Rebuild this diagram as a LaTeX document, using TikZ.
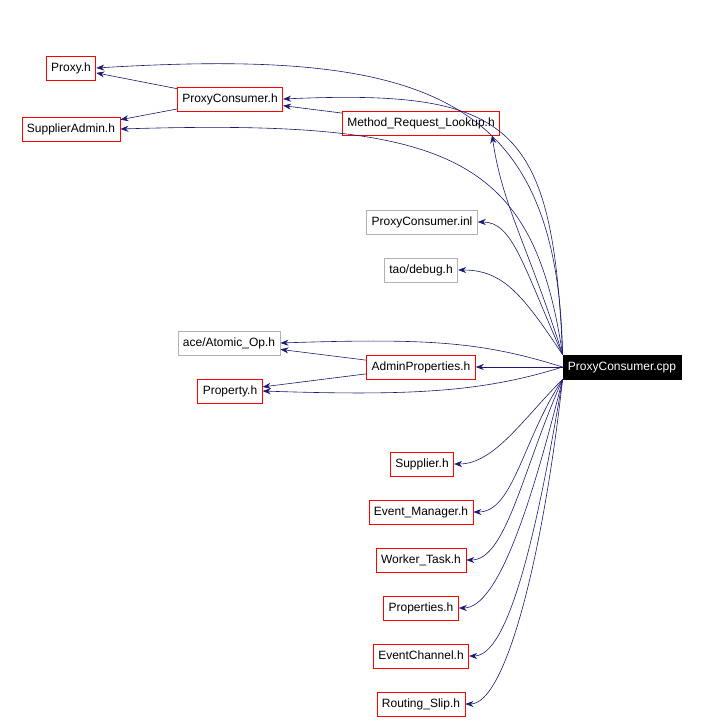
\documentclass[tikz,border=0pt]{standalone}
\usepackage{fontspec}
\setmainfont{Liberation Sans}
\usetikzlibrary{arrows.meta, positioning}
\definecolor{edgeblue}{RGB}{25,25,112}
\tikzset{
  file/.style = {rectangle, color=red, text=black, line width=0.8pt, inner sep=0pt, minimum height=24pt, text height=8.5pt, text depth=2.5pt, font=\fontsize{12}{13}\selectfont, inner xsep=5pt},
  extfile/.style = {file, color=black!30, text=black},
  root/.style = {file, color=black, fill=black, text=white},
  dep/.style = {color=edgeblue, line width=0.6pt, -{Stealth[length=8pt,width=6pt]}}
}
\begin{document}
\begin{tikzpicture}[x=1pt, y=-1pt]
  \useasboundingbox (0,0) rectangle (704,723);
  % included files
  \node (Proxy) [file, draw] at (71,68) {Proxy.h};
  \node (PxConsumer) [file, draw] at (230,99) {ProxyConsumer.h};
  \node (SupAdmin) [file, draw] at (71,129) {SupplierAdmin.h};
  \node (MRLookup) [file, draw] at (421,123) {Method\_Request\_Lookup.h};
  \node (PxInl) [extfile, draw] at (422,222) {ProxyConsumer.inl};
  \node (Debug) [extfile, draw] at (421,270) {tao/debug.h};
  \node (AtomicOp) [extfile, draw] at (229,343) {ace/Atomic\_Op.h};
  \node (AdminProps) [file, draw] at (421,367) {AdminProperties.h};
  \node (Cpp) [root, draw] at (622,367) {ProxyConsumer.cpp};
  \node (Property) [file, draw] at (230,391) {Property.h};
  \node (Supplier) [file, draw] at (422,464) {Supplier.h};
  \node (EvManager) [file, draw] at (421,512) {Event\_Manager.h};
  \node (WTask) [file, draw] at (421,560) {Worker\_Task.h};
  \node (Props) [file, draw] at (421,608) {Properties.h};
  \node (EvChannel) [file, draw] at (421,656) {EventChannel.h};
  \node (RSlip) [file, draw] at (421,704) {Routing\_Slip.h};

  \begin{scope}[color=edgeblue]
  % includes between headers
  \draw [dep] (PxConsumer) -- (Proxy);
  \draw [dep] (PxConsumer) -- (SupAdmin);
  \draw [dep] (MRLookup) -- (PxConsumer);
  \draw [dep] (AdminProps) -- (AtomicOp);
  \draw [dep] (AdminProps) -- (Property);

  % includes of the cpp file
  \draw [dep] (Cpp.north west) .. controls +(-5,-260) and +(330,-20) .. (Proxy.east);
  \draw [dep] (Cpp.north west) .. controls +(-10,-230) and +(230,-10) .. (PxConsumer.east);
  \draw [dep] (Cpp.north west) .. controls +(-30,-200) and +(330,-10) .. (SupAdmin.east);
  \draw [dep] (Cpp.north west) .. controls +(-35,-110) and +(10,70) .. ([xshift=-8pt]MRLookup.south east);
  \draw [dep] (Cpp.north west) .. controls +(-40,-90) and +(35,0) .. (PxInl.east);
  \draw [dep] (Cpp.north west) .. controls +(-40,-60) and +(45,0) .. (Debug.east);
  \draw [dep] (Cpp.west) .. controls +(-80,-25) and +(150,-5) .. (AtomicOp.east);
  \draw [dep] (Cpp) -- (AdminProps);
  \draw [dep] (Cpp.west) .. controls +(-80,25) and +(150,5) .. (Property.east);
  \draw [dep] (Cpp.south west) .. controls +(-40,40) and +(40,0) .. (Supplier.east);
  \draw [dep] (Cpp.south west) .. controls +(-40,60) and +(40,0) .. (EvManager.east);
  \draw [dep] (Cpp.south west) .. controls +(-40,90) and +(40,0) .. (WTask.east);
  \draw [dep] (Cpp.south west) .. controls +(-30,120) and +(40,0) .. (Props.east);
  \draw [dep] (Cpp.south west) .. controls +(-25,150) and +(40,0) .. (EvChannel.east);
  \draw [dep] (Cpp.south west) .. controls +(-20,180) and +(40,0) .. (RSlip.east);
  \end{scope}
\end{tikzpicture}
\end{document}
